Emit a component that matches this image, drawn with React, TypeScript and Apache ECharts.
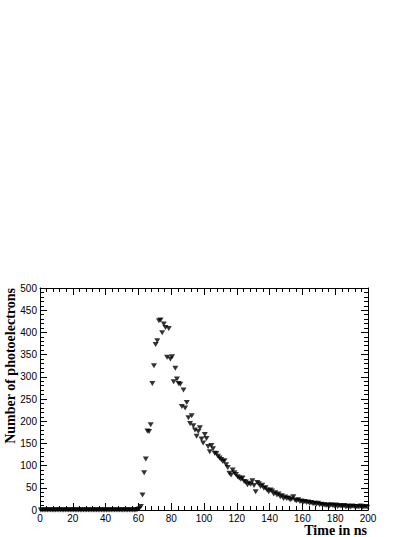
import React, { useEffect, useRef } from "react";
import * as echarts from "echarts";

// bin centers: i + 0.5 ns, i = 0..199
const zeroBins: number[] = new Array(59).fill(0);
const riseAndPeak: number[] = [
  1, 3, 8, 34, 84, 115, 178, 177, 192, 285, 325, 373, 381, 426, 428, 399, 419, 411, 344, 409,
  340, 345, 289, 319, 295, 285, 283, 233, 270, 230, 242, 208, 195, 212, 190, 180, 166, 177, 185, 160,
  151, 170, 161, 143, 131, 145, 138, 128, 127, 121, 117, 114, 109, 111, 102, 96, 83, 79, 90, 84,
  80, 75, 72, 69, 72, 64, 63, 57, 60, 58, 66, 55, 41, 62, 59, 53, 56, 49, 50, 45,
];
const tail: number[] = [
  41, 45, 43, 36, 39, 34, 36, 30, 32, 26, 29, 26, 27, 23, 25, 30, 22, 21, 23, 19,
  20, 18, 19, 17, 18, 15, 17, 14, 15, 13, 15, 12, 13, 11, 12, 10, 11, 9, 12, 10,
  9, 11, 8, 10, 9, 8, 10, 7, 9, 8, 7, 9, 8, 6, 8, 7, 9, 6, 7, 8, 6,
];
const counts: number[] = [...zeroBins, ...riseAndPeak, ...tail].slice(0, 200);
const binCenters: number[] = counts.map((_, i) => i + 0.5);

const xTitle = "Time in ns";
const yTitle = "Number of photoelectrons";

export default function App() {
  const ref = useRef<HTMLDivElement>(null);
  useEffect(() => {
    if (!ref.current) return;
    const chart = echarts.init(ref.current, undefined, { renderer: "svg" });
    const labelStyle = { fontFamily: "Liberation Sans", fontSize: 10, color: "#000" };
    const lineStyle = { color: "#000", width: 1 };
    const common = {
      axisLine: { show: true, onZero: false, lineStyle },
      axisTick: { show: true, inside: true, length: 7, lineStyle },
      minorTick: { show: true, splitNumber: 5, length: 4, lineStyle },
      splitLine: { show: false },
    };
    chart.setOption({
      animation: false,
      backgroundColor: "#fff",
      grid: { left: 40, right: 47, top: 288, bottom: 27, containLabel: false },
      xAxis: [
        { type: "value", min: 0, max: 200, interval: 20, position: "bottom", ...common,
          axisLabel: { ...labelStyle, margin: 3 } },
        { type: "value", min: 0, max: 200, interval: 20, position: "top", ...common,
          axisLabel: { show: false } },
      ],
      yAxis: [
        { type: "value", min: 0, max: 500, interval: 50, position: "left", ...common,
          axisLabel: { ...labelStyle, margin: 3 } },
        { type: "value", min: 0, max: 500, interval: 50, position: "right", ...common,
          axisLabel: { show: false } },
      ],
      series: [
        {
          type: "scatter",
          xAxisIndex: 0,
          yAxisIndex: 0,
          data: binCenters.map((x, i) => [x, counts[i]]),
          symbol: "triangle",
          symbolRotate: 180,
          symbolSize: [6, 5],
          itemStyle: { color: "#000" },
          clip: false,
        },
      ],
      graphic: [
        {
          type: "text", right: 48, top: 523,
          style: { text: xTitle, fontFamily: "Liberation Serif", fontWeight: "bold", fontSize: 14, fill: "#000" },
        },
        {
          type: "text", x: 10, y: 288, rotation: Math.PI / 2,
          style: {
            text: yTitle, fontFamily: "Liberation Serif", fontWeight: "bold", fontSize: 14, fill: "#000",
            align: "right", verticalAlign: "middle",
          },
        },
      ],
    });
    return () => chart.dispose();
  }, []);
  return <div ref={ref} style={{ position: "fixed", left: 0, top: 0, width: 415, height: 537 }} />;
}
